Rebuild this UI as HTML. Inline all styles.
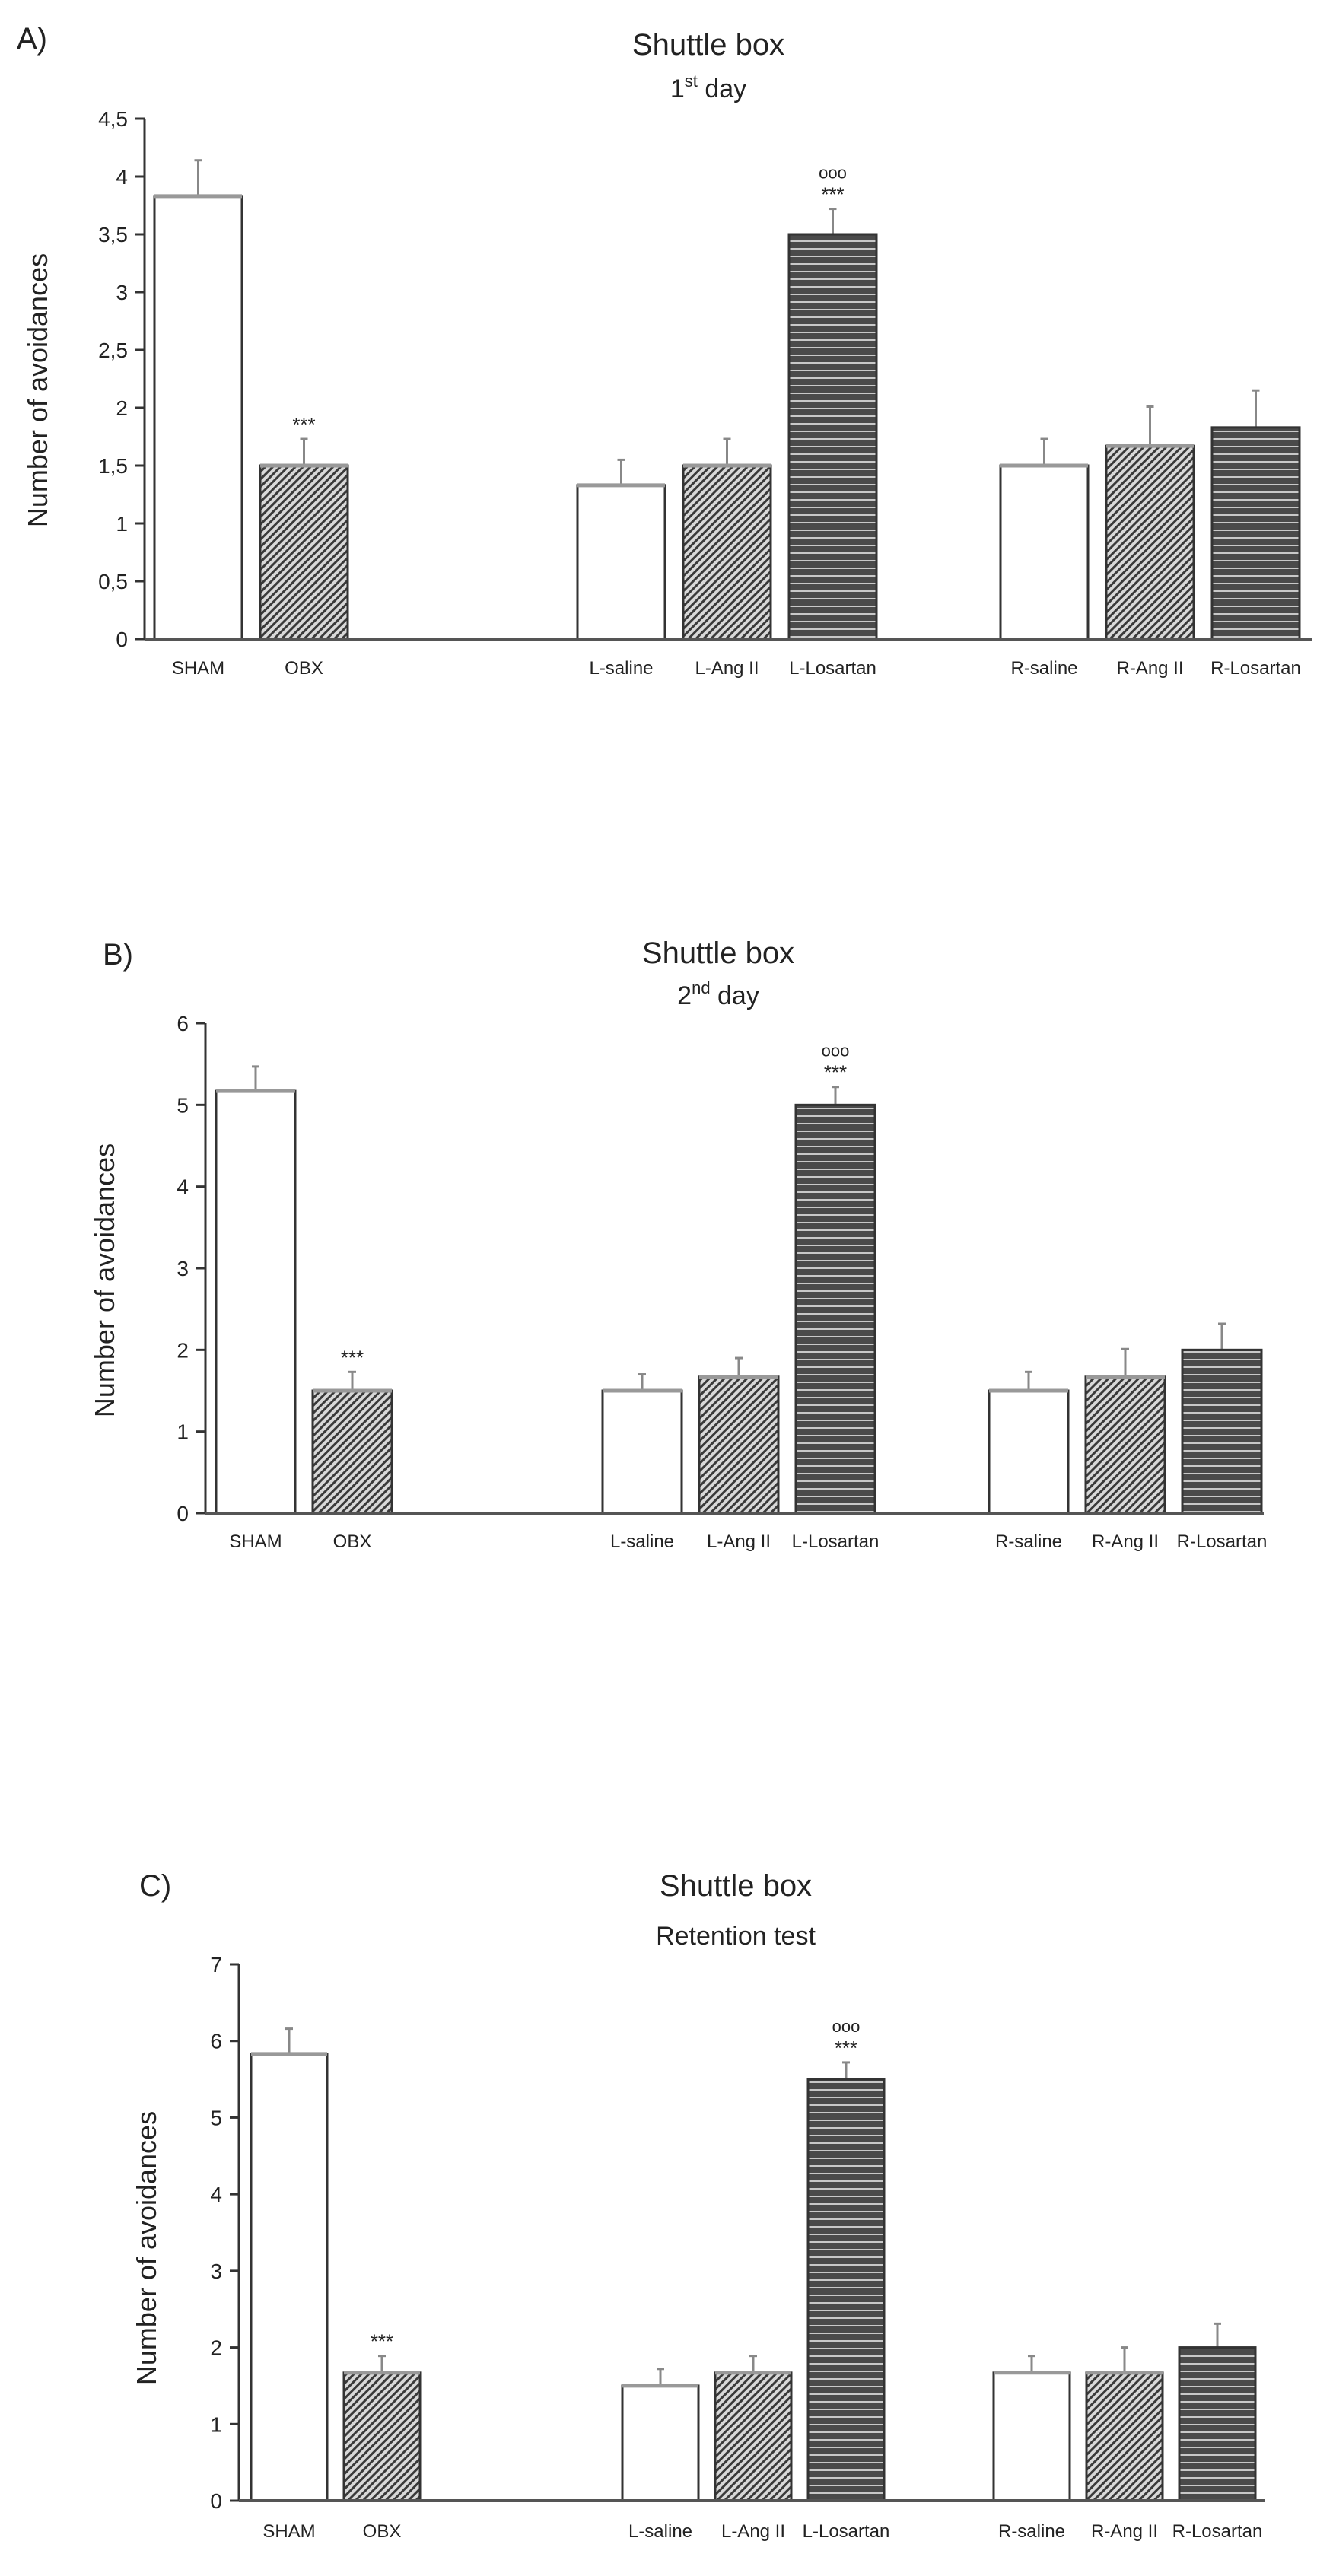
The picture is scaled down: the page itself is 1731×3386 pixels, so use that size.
<!DOCTYPE html>
<html><head><meta charset="utf-8">
<style>
html,body{margin:0;padding:0;background:#fff;}
svg{display:block;}
text{font-family:"Liberation Sans Narrow","Liberation Sans",sans-serif;fill:#222;}
</style></head>
<body>
<svg id="fig" width="1731" height="3386" viewBox="0 0 1731 3386">
<defs>
<pattern id="diag" patternUnits="userSpaceOnUse" width="7" height="7" patternTransform="rotate(45)">
<rect width="7" height="7" fill="#d8d8d8"/><rect width="3" height="7" fill="#3a3a3a"/>
</pattern>
<pattern id="horiz" patternUnits="userSpaceOnUse" width="10" height="10">
<rect width="10" height="10" fill="#4a4a4a"/><rect y="6" width="10" height="2" fill="#c8c8c8"/>
</pattern>
</defs>
</svg>
<script>
const categories = ["SHAM","OBX","L-saline","L-Ang II","L-Losartan","R-saline","R-Ang II","R-Losartan"];
const slotIndex = [0,1,4,5,6,8,9,10];
const fillKinds = ["white","diag","white","diag","horiz","white","diag","horiz"];
const valuesA = [3.83,1.5,1.33,1.5,3.5,1.5,1.67,1.83];
const errorsA = [0.31,0.23,0.22,0.23,0.22,0.23,0.34,0.32];
const valuesB = [5.17,1.5,1.5,1.67,5.0,1.5,1.67,2.0];
const errorsB = [0.30,0.23,0.20,0.23,0.22,0.23,0.34,0.32];
const valuesC = [5.83,1.67,1.5,1.67,5.5,1.67,1.67,2.0];
const errorsC = [0.33,0.22,0.22,0.22,0.22,0.22,0.33,0.31];
const ticksA = ["0","0,5","1","1,5","2","2,5","3","3,5","4","4,5"];
const ticksB = ["0","1","2","3","4","5","6"];
const ticksC = ["0","1","2","3","4","5","6","7"];

const NS="http://www.w3.org/2000/svg";
const svg=document.getElementById('fig');
function mk(tag,attrs,parent){const e=document.createElementNS(NS,tag);for(const k in attrs)e.setAttribute(k,attrs[k]);(parent||svg).appendChild(e);return e;}

const panels=[
 {id:"a",letter:"A)",lx:22,ly:64,sub:"1st day",values:valuesA,errors:errorsA,ticks:ticksA,step:0.5,
  ax:190,y0:840,ytop:156,axEnd:1724,b0:203,pitch:139,bw:115,tx:931,ty:72,sy:128,ylx:62,yly:513,cy:886},
 {id:"b",letter:"B)",lx:135,ly:1268,sub:"2nd day",values:valuesB,errors:errorsB,ticks:ticksB,step:1,
  ax:270,y0:1989,ytop:1345,axEnd:1661,b0:284,pitch:127,bw:104,tx:944,ty:1266,sy:1320,ylx:150,yly:1683,cy:2034},
 {id:"c",letter:"C)",lx:183,ly:2492,sub:"Retention test",values:valuesC,errors:errorsC,ticks:ticksC,step:1,
  ax:314,y0:3287,ytop:2582,axEnd:1663,b0:330,pitch:122,bw:100,tx:967,ty:2492,sy:2556,ylx:205,yly:2955,cy:3335}
];

panels.forEach(p=>{
 const g=mk('g',{});
 
 
 const maxV=(p.ticks.length-1)*p.step;
 const yScale=v=>p.y0-(p.y0-p.ytop)*v/maxV;
 const xScale=i=>p.b0+slotIndex[i]*p.pitch;
 let t=mk('text',{x:p.lx,y:p.ly,'font-size':40},g);t.textContent=p.letter;
 
 t=mk('text',{x:p.tx,y:p.ty,'font-size':40,'text-anchor':'middle'},g);t.textContent="Shuttle box";
 
 t=mk('text',{x:p.tx,y:p.sy,'font-size':34,'text-anchor':'middle'},g);
 
 if(p.sub.match(/^\d/)){const m=p.sub.match(/^(\d)(\w\w) (.*)$/);
   t.appendChild(document.createTextNode(m[1]));
   const s=document.createElementNS(NS,'tspan');s.setAttribute('font-size',22);s.setAttribute('dy',-14);s.textContent=m[2];t.appendChild(s);
   const r=document.createElementNS(NS,'tspan');r.setAttribute('dy',14);r.textContent=' '+m[3];t.appendChild(r);
 } else t.textContent=p.sub;
 t=mk('text',{x:p.ylx,y:p.yly,'font-size':36,'text-anchor':'middle','font-family':'Liberation Sans, sans-serif',transform:`rotate(-90 ${p.ylx} ${p.yly})`},g);
 t.textContent="Number of avoidances";
 
 // axes
 let l=mk('line',{x1:p.ax,y1:p.ytop,x2:p.ax,y2:p.y0,stroke:'#333','stroke-width':3},g);
 
 p.ticks.forEach((lab,k)=>{
  const y=yScale(k*p.step);
  const tk=mk('line',{x1:p.ax-12,y1:y,x2:p.ax,y2:y,stroke:'#333','stroke-width':3},g);
  
  const tl=mk('text',{x:p.ax-22,y:y+10,'font-size':28,'text-anchor':'end',fill:'#333'},g);tl.textContent=lab;
  
 });
 categories.forEach((c,i)=>{
  const x=xScale(i),v=p.values[i],e=p.errors[i];
  const yt=yScale(v),ye=yScale(v+e);
  const cx=x+p.bw/2;
  const er=mk('line',{x1:cx,y1:yt,x2:cx,y2:ye,stroke:'#888','stroke-width':3},g);
  
  const cap=mk('line',{x1:cx-5,y1:ye,x2:cx+5,y2:ye,stroke:'#888','stroke-width':3},g);
  
  const fk=fillKinds[i];
  const r=mk('rect',{x:x,y:yt,width:p.bw,height:p.y0-yt,fill:fk==='white'?'#fff':'url(#'+fk+')',stroke:'#333','stroke-width':3},g);
  
  if(fk!=='horiz'){const top=mk('line',{x1:x,y1:yt,x2:x+p.bw,y2:yt,stroke:'#999','stroke-width':5},g);
   }
  const cl=mk('text',{x:cx,y:p.cy,'font-size':24,'text-anchor':'middle'},g);cl.textContent=c;
  
  if(i===1||i===4){
   const s=mk('text',{x:cx,y:ye-10,'font-size':26,'text-anchor':'middle',fill:'#333'},g);s.textContent="***";
   
   if(i===4){const o=mk('text',{x:cx,y:ye-40,'font-size':22,'text-anchor':'middle',fill:'#444'},g);o.textContent="ooo";
    }
  }
 });
 l=mk('line',{x1:p.ax,y1:p.y0,x2:p.axEnd,y2:p.y0,stroke:'#555','stroke-width':4},g);
 
});
</script>
</body></html>
